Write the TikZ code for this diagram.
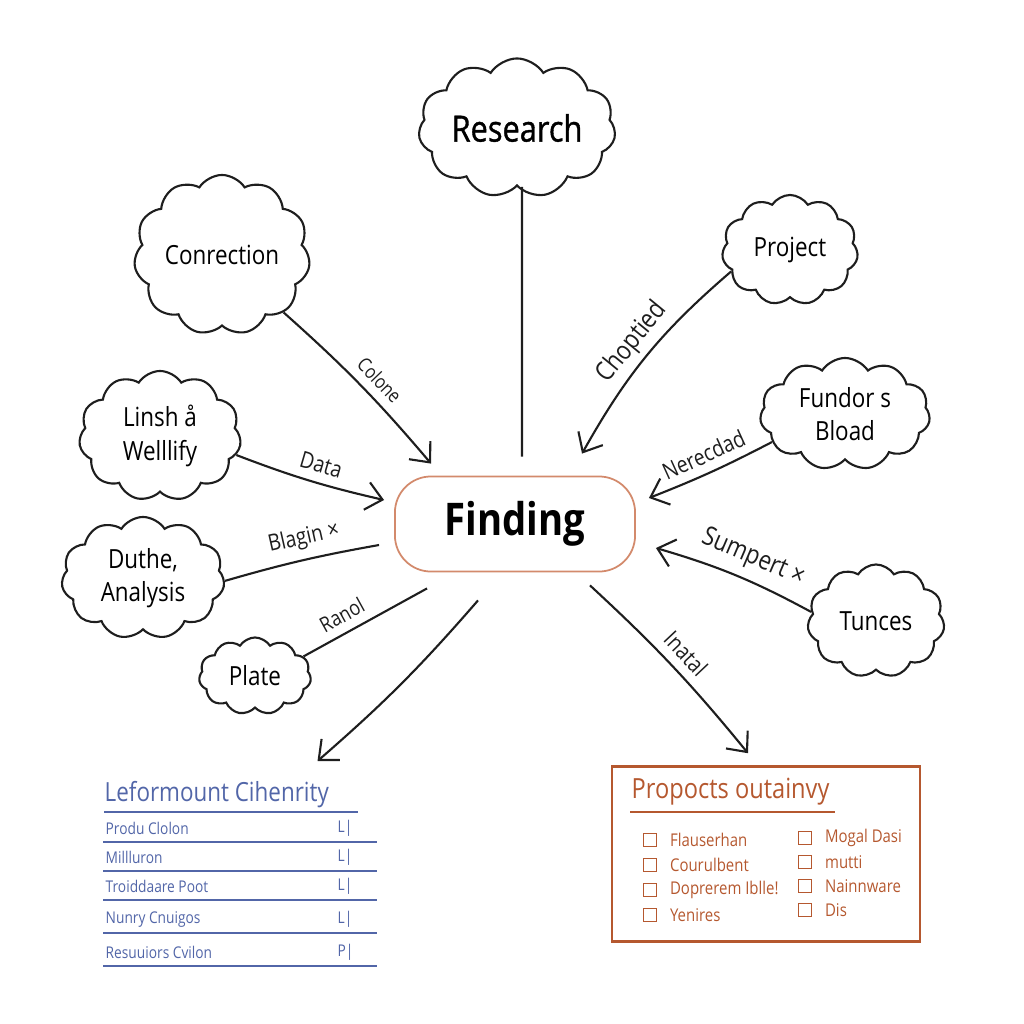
\documentclass[tikz,border=0pt]{standalone}
\usepackage{fontspec}
\setmainfont[FakeStretch=0.85]{Open Sans}
\newfontfamily\gruesa[FakeStretch=0.85,FakeBold=1]{Open Sans}
\usetikzlibrary{positioning,arrows.meta,shapes.symbols}
\definecolor{tinta}{HTML}{1E1E1E}
\definecolor{borde}{HTML}{D38A6C}
\definecolor{azullst}{HTML}{5266A8}
\definecolor{ladrillo}{HTML}{B5582F}
\tikzset{
  nube/.style={cloud, cloud puffs=11, cloud puff arc=115, aspect=1.5, draw=tinta,
    line width=0.6pt, fill=white, align=center, inner sep=-1pt,
    font=\fontsize{7.5}{9.5}\selectfont},
  centro/.style={rectangle, rounded corners=3.6mm, draw=borde, line width=0.5pt,
    fill=white, minimum width=2.4cm, minimum height=0.95cm,
    font=\fontsize{12.8}{15}\selectfont\bfseries},
  enlace/.style={line width=0.6pt, draw=tinta},
  flecha/.style={enlace, -{Straight Barb[length=1.6mm,width=2.8mm]}},
  etiq/.style={sloped, above, inner sep=2.5pt, text=tinta, font=\fontsize{6.5}{7}\selectfont},
  raya/.style={line width=0.6pt, draw=azullst},
  fila/.style={anchor=west, inner sep=0pt, text=azullst, font=\fontsize{4.6}{6}\selectfont},
  casilla/.style={rectangle, draw=ladrillo, line width=0.5pt, minimum size=1.3mm, inner sep=0pt},
  punto/.style={anchor=west, inner sep=0pt, text=ladrillo, font=\fontsize{5}{6}\selectfont},
}

\begin{document}
\begin{tikzpicture}[x=0.01cm, y=-0.01cm]
    \useasboundingbox (0,0) rectangle (1024,1024);
    % Nodo central
    \node[centro] (find) at (515,524) {Finding};
    % Nubes
    \node[nube, minimum width=1.97cm, minimum height=1.25cm, font=\fontsize{10.3}{12}\gruesa] (res) at (517,128) {Research};
    \node[nube, minimum width=1.76cm, minimum height=1.6cm] (conn) at (222,255) {Conrection};
    \node[nube, minimum width=1.36cm, minimum height=1.1cm] (proj) at (790,250) {Project};
    \node[nube, minimum width=1.62cm, minimum height=1.3cm] (lin) at (160,436) {Linsh å\\Welllify};
    \node[nube, minimum width=1.7cm, minimum height=1.12cm] (fund) at (845,414) {Fundor s\\Bload};
    \node[nube, minimum width=1.63cm, minimum height=1.22cm] (duthe) at (143,578) {Duthe,\\Analysis};
    \node[nube, minimum width=1.37cm, minimum height=1.13cm] (tun) at (876,621) {Tunces};
    \node[nube, minimum width=1.12cm, minimum height=0.77cm] (plate) at (255,676) {Plate};

    % Lista izquierda
    \node[anchor=west, inner sep=0pt, text=azullst, font=\fontsize{7.5}{8}\selectfont] (lst) at (104,795) {Leformount Cihenrity};
    \draw[raya] (104,812) -- (358,812);
    \foreach \txt/\mk/\yy [count=\i] in {Produ Clolon/L|/828, Millluron/L|/857,
        Troiddaare Poot/L|/886, Nunry Cnuigos/L|/919, Resuuiors Cvilon/P|/952}{
      \node[fila] (fila\i) at (105,\yy) {\txt};
      \node[fila] (marca\i) at (337,\yy) {\mk};
      \draw[raya] (103,\yy+14) -- (377,\yy+14);
    }

    % Caja derecha
    \node[draw=ladrillo, line width=0.7pt, minimum width=3.08cm, minimum height=1.75cm, inner sep=0pt] (caja) at (766,854) {};
    \node[anchor=west, inner sep=0pt, text=ladrillo, font=\fontsize{7.9}{9}\selectfont] (tit) at (631,792) {Propocts outainvy};
    \draw[ladrillo, line width=0.6pt] (630,812) -- (835,812);
    \foreach \txt/\xx/\yy [count=\i] in {Flauserhan/650/840, Courulbent/650/865,
        Doprerem Iblle!/650/890, Yenires/650/915, Mogal Dasi/805/838, mutti/805/862,
        Nainnware/805/886, Dis/805/910}{
      \node[casilla] (cas\i) at (\xx,\yy) {};
      \node[punto, right=1.2mm of cas\i] (txt\i) {\txt};
    }

    % Conectores
    \draw[enlace] ([shift={(5,0)}]res.south) -- ([shift={(7,-19)}]find.north);
    \draw[flecha] (conn.-43) to[bend left=4] node[etiq, pos=0.55, font=\fontsize{5.5}{6}\selectfont]{Colone} ([shift={(37,-12)}]find.north west);
    \draw[flecha] (proj.200) to[bend right=10] node[etiq, pos=0.5, inner sep=1.5pt, font=\fontsize{7.5}{8}\selectfont]{Choptied} ([shift={(67,-22)}]find.north);
    \draw[flecha] (lin.-14) to[bend right=4] node[etiq, pos=0.55]{Data} ([shift={(-10,-24)}]find.west);
    \draw[flecha] (fund.201) to[bend left=3] node[etiq, pos=0.5]{Nerecdad} ([shift={(13,-26)}]find.east);
    \draw[enlace] (duthe.-2) to[bend left=3] node[etiq, pos=0.55]{Blagin ×} ([shift={(-15,21)}]find.west);
    \draw[flecha] (tun.172) to[bend right=6] node[etiq, pos=0.44, font=\fontsize{7.5}{8}\selectfont]{Sumpert ×} ([shift={(20,24)}]find.east);
    \draw[enlace] (plate.22) -- node[etiq, pos=0.38, font=\fontsize{6}{6}\selectfont]{Ranol} ([shift={(33,16)}]find.south west);
    \draw[flecha] ([shift={(-37,28)}]find.south) to[bend left=4] ([shift={(-12,-20)}]lst.north east);
    \draw[flecha] ([shift={(75,13)}]find.south) to[bend left=4] node[etiq, pos=0.5]{Inatal} ([shift={(-18,-12)}]caja.north);
\end{tikzpicture}
\end{document}
